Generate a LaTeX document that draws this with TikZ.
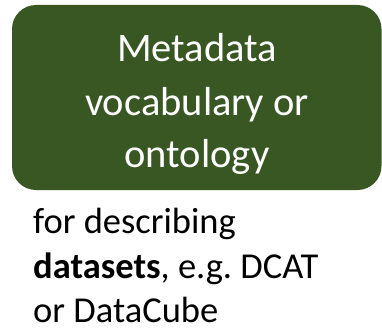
\documentclass[tikz,border=0pt]{standalone}
\usepackage{fontspec}
\setmainfont{Carlito}
\definecolor{boxgreen}{HTML}{385723}
\tikzset{
  box/.style={fill=boxgreen, draw=none, rounded corners=24pt},
  boxtext/.style={text=white, anchor=base, inner sep=0pt, font=\fontsize{40.5pt}{48pt}\selectfont},
  note/.style={text=black, anchor=base west, inner sep=0pt, font=\fontsize{36.5pt}{44pt}\selectfont}
}
\begin{document}
\begin{tikzpicture}[x=1pt,y=1pt]
  \useasboundingbox (0,0) rectangle (382,-329);
  % the vocabulary box
  \path[box] (12,-5) rectangle (381.5,-190);
  \node[boxtext] (l1) at (197,-61.7) {Metadata};
  \node[boxtext] (l2) at (197,-115) {vocabulary or};
  \node[boxtext] (l3) at (197,-167.5) {ontology};
  % caption below the box
  \node[note] (n1) at (33,-233) {for describing};
  \node[note] (n2) at (33,-278) {\textbf{datasets}, e.g.\ DCAT};
  \node[note] (n3) at (33,-322) {or DataCube};
\end{tikzpicture}
\end{document}
